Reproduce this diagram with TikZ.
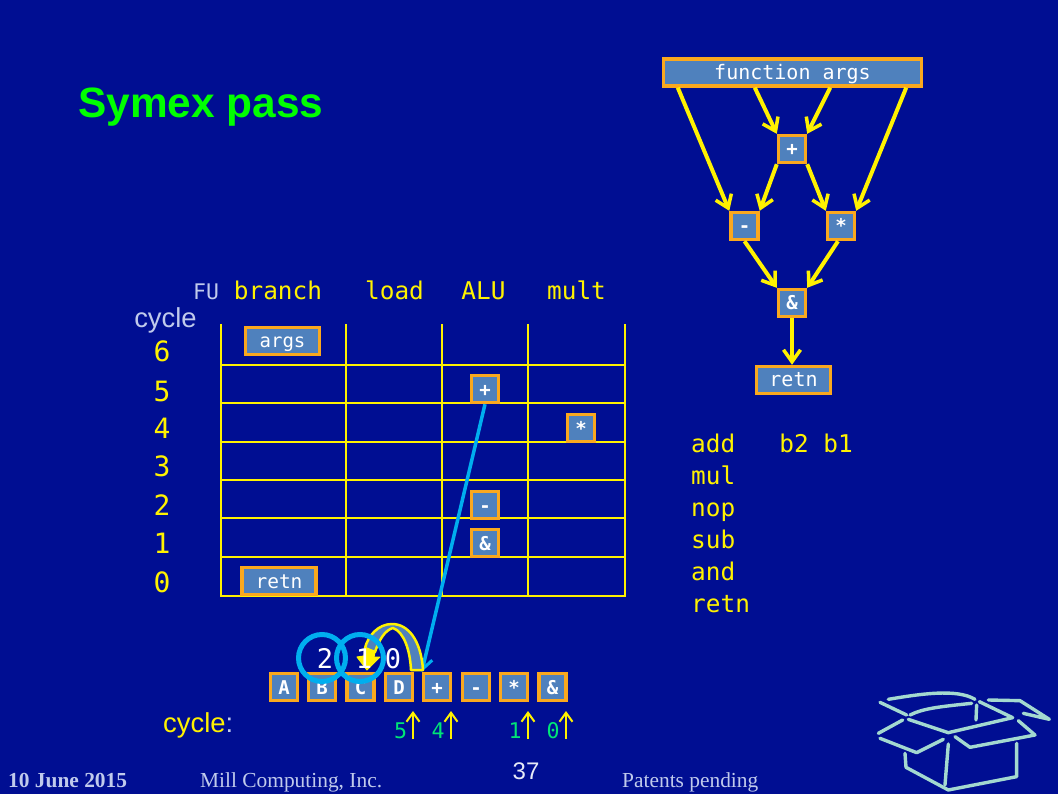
\documentclass[tikz,border=0pt]{standalone}
\usepackage{fontspec}
\setmainfont{Liberation Sans}
\newfontfamily\codefont{DejaVu Sans Mono}
\newfontfamily\footfont{Liberation Serif}
\usetikzlibrary{arrows.meta}
\definecolor{slidebg}{HTML}{000E92}
\definecolor{opfill}{HTML}{4F81BD}
\definecolor{opedge}{HTML}{FAA81E}
\definecolor{pale}{HTML}{C0CAEC}
\definecolor{boxline}{HTML}{A3D9D0}
\definecolor{skyline}{HTML}{00AEEF}
\definecolor{latgreen}{HTML}{00E676}
\tikzset{
  font={\fontsize{20pt}{24}\selectfont},
  opbox/.style={draw=opedge,fill=opfill,line width=3.4pt,text=white,inner sep=0pt,
    minimum height=27pt,text height=14pt,text depth=0pt,font={\codefont\fontsize{20pt}{24}\selectfont}},
  opsmall/.style={opbox,minimum width=27pt,font={\codefont\bfseries\fontsize{19pt}{24}\selectfont}},
  flow/.style={draw=yellow,line width=4pt,-{Straight Barb[length=12pt,width=17pt,line width=3.5pt]}},
  tick/.style={draw=yellow,line width=2.5pt,-{Straight Barb[length=9pt,width=13pt,line width=2pt]}},
  gridline/.style={draw=yellow,line width=2pt},
  heading/.style={text=yellow,anchor=base,inner sep=0pt,font={\codefont\fontsize{24.4pt}{28}\selectfont}},
  rowno/.style={text=yellow,anchor=base,inner sep=0pt,font={\codefont\fontsize{28pt}{30}\selectfont}},
  listing/.style={text=yellow,anchor=base west,inner sep=0pt,font={\codefont\fontsize{24.4pt}{28}\selectfont}},
  latency/.style={text=latgreen,anchor=base,inner sep=0pt,font={\codefont\fontsize{21.6pt}{24}\selectfont}},
  countdown/.style={text=white,anchor=base,inner sep=0pt,font={\codefont\fontsize{27pt}{30}\selectfont}},
  foot/.style={anchor=base west,inner sep=0pt,text=pale,font={\footfont\fontsize{21.4pt}{24}\selectfont}},
  boxicon/.style={draw=boxline,line width=3.4pt,line cap=round,line join=round}
}

\begin{document}
\begin{tikzpicture}[x=1pt,y=-1pt]
\useasboundingbox (0,0) rectangle (1058,794);
\fill [slidebg] (0,0) rectangle (1058,794);
\node (title) [anchor=base west,inner sep=0pt,text=green,font={\bfseries\fontsize{42.4pt}{48}\selectfont}] at (78,118) {Symex pass};
% dataflow graph
\node (fnargs) [opbox,minimum width=258pt] at (792.5,72.5) {function args};
\node (gadd) [opsmall] at (792,149) {+};
\node (gsub) [opsmall] at (744.5,226) {-};
\node (gmul) [opsmall] at (841,226) {*};
\node (gand) [opsmall] at (792,303) {\&};
\node (gretn) [opbox,minimum width=74pt] at (793.5,380) {retn};
\draw [flow] ([xshift=16pt]fnargs.south west) -- (gsub.north west);
\draw [flow] ([xshift=93pt]fnargs.south west) -- (gadd.north west);
\draw [flow] ([xshift=-93pt]fnargs.south east) -- (gadd.north east);
\draw [flow] ([xshift=-17pt]fnargs.south east) -- (gmul.north east);
\draw [flow] (gadd.south west) -- (gsub.north east);
\draw [flow] (gadd.south east) -- (gmul.north west);
\draw [flow] (gsub.south) -- (gand.north west);
\draw [flow] ([xshift=-3pt]gmul.south) -- (gand.north east);
\draw [flow] (gand.south) -- (gand.south |- gretn.north);
% listing
\node (lineadd) [listing] at (691,452) {add\ \ \ b2 b1};
\node (linemul) [listing] at (691,484) {mul};
\node (linenop) [listing] at (691,516) {nop};
\node (linesub) [listing] at (691,548) {sub};
\node (lineand) [listing] at (691,580) {and};
\node (lineretn) [listing] at (691,612) {retn};
% schedule table
\draw [gridline] (221,324) -- (221,597);
\draw [gridline] (346,324) -- (346,597);
\draw [gridline] (442,324) -- (442,597);
\draw [gridline] (528,324) -- (528,597);
\draw [gridline] (625,324) -- (625,597);
\draw [gridline] (221,365) -- (625,365);
\draw [gridline] (221,403) -- (625,403);
\draw [gridline] (221,442) -- (625,442);
\draw [gridline] (221,480) -- (625,480);
\draw [gridline] (221,518) -- (625,518);
\draw [gridline] (221,557) -- (625,557);
\draw [gridline] (221,596) -- (625,596);
\node (fu) [heading,text=pale,font={\codefont\fontsize{21.5pt}{24}\selectfont}] at (206,300) {FU};
\node (hbranch) [heading] at (278,300) {branch};
\node (hload) [heading] at (394.5,300) {load};
\node (halu) [heading] at (483.5,300) {ALU};
\node (hmult) [heading] at (576.5,300) {mult};
\node (cyclelabel) [anchor=base,inner sep=0pt,text=pale,font={\fontsize{27.4pt}{30}\selectfont}] at (165.5,328) {cycle};
\node (row6) [rowno] at (162,362) {6};
\node (row5) [rowno] at (162,401) {5};
\node (row4) [rowno] at (162,438) {4};
\node (row3) [rowno] at (162,476) {3};
\node (row2) [rowno] at (162,515) {2};
\node (row1) [rowno] at (162,553) {1};
\node (row0) [rowno] at (162,592) {0};
\node (targs) [opbox,minimum width=74pt,font={\codefont\fontsize{19pt}{24}\selectfont}] at (282.5,341) {args};
\node (tretn) [opbox,minimum width=74pt,font={\codefont\fontsize{19.5pt}{24}\selectfont}] at (279,581) {retn};
\node (tadd) [opsmall] at (485,389) {+};
\node (tmul) [opsmall] at (581,428) {*};
\node (tsub) [opsmall] at (485,505) {-};
\node (tand) [opsmall] at (485,543) {\&};
% instruction row
\node (ia) [opsmall] at (284,687) {A};
\node (ib) [opsmall] at (322,687) {B};
\node (ic) [opsmall] at (360.5,687) {C};
\node (id) [opsmall] at (399,687) {D};
\node (iadd) [opsmall] at (437,687) {+};
\node (isub) [opsmall] at (476,687) {-};
\node (imul) [opsmall] at (514,687) {*};
\node (iand) [opsmall] at (552.5,687) {\&};
\draw [line width=3.5pt,draw=skyline,-{Straight Barb[length=11pt,width=15pt,line width=3pt]}] (tadd.south) -- (iadd.north west);
% curved arrow
\draw [draw=yellow,fill=opfill,line width=2.5pt,line join=round] (423,670) .. controls (421,640) and (408,624) .. (392,624) .. controls (378,624) and (368,636) .. (365,648) -- (375,652) .. controls (379,640) and (385,630) .. (393,628) .. controls (404,632) and (410,650) .. (411,670) -- cycle;
\draw [draw=yellow,fill=yellow,line width=1pt,line join=round] (357,657) -- (364,656) -- (365,648) -- (375,652) -- (374,657) -- (380,657) -- (367,670) -- cycle;
\node (cnt2) [countdown] at (325,668) {2};
\node (cnt1) [countdown] at (364,668) {1};
\node (cnt0) [countdown] at (393,668) {0};
\draw [draw=skyline,line width=5pt] (322,658) circle (23.5);
\draw [draw=skyline,line width=5pt] (360,658) circle (23.5);
% latency marks
\node (lat5) [latency] at (400.5,738) {5};
\node (lat4) [latency] at (438,738) {4};
\node (lat1) [latency] at (515,738) {1};
\node (lat0) [latency] at (553,738) {0};
\coordinate (mark5) at (413,739);
\coordinate (mark4) at (451,739);
\coordinate (mark1) at (528,739);
\coordinate (mark0) at (566,739);
\draw [tick] (mark5) -- ++(0,-28);
\draw [tick] (mark4) -- ++(0,-28);
\draw [tick] (mark1) -- ++(0,-28);
\draw [tick] (mark0) -- ++(0,-28);
\node (cyclecolon) [anchor=base west,inner sep=0pt,font={\fontsize{27.4pt}{30}\selectfont},text=yellow] at (163,732) {cycle\textcolor{pale}{:}};
% footer
\node (slideno) [text=pale!40!white,font={\fontsize{24pt}{28}\selectfont}] at (526,771) {37};
\node (footdate) [foot,font={\footfont\bfseries\fontsize{21.4pt}{24}\selectfont}] at (8,787) {10 June 2015};
\node (footmill) [foot] at (200,787) {Mill Computing, Inc.};
\node (footpat) [foot] at (622,787) {Patents pending};
% box icon
\begin{scope}[shift={(860,670)},x=0.3333pt,y=-0.3333pt]
\draw [boxicon] (85,88) .. controls (180,72) and (290,55) .. (345,88);
\draw [boxicon] (60,97) -- (140,135);
\draw [boxicon] (150,135) .. controls (190,115) and (240,110) .. (335,100);
\draw [boxicon] (350,105) -- (348,150);
\draw [boxicon] (145,148) -- (265,188) -- (458,143) -- (358,95);
\draw [boxicon] (385,90) -- (480,92) -- (568,148) -- (490,130);
\draw [boxicon] (128,150) -- (55,190);
\draw [boxicon] (60,205) -- (170,248) -- (250,208);
\draw [boxicon] (285,200) -- (330,232) -- (525,195) -- (475,152);
\draw [boxicon] (265,222) -- (255,345);
\draw [boxicon] (135,250) -- (138,292) -- (265,360) -- (470,320) -- (470,220);
\end{scope}
\end{tikzpicture}
\end{document}
